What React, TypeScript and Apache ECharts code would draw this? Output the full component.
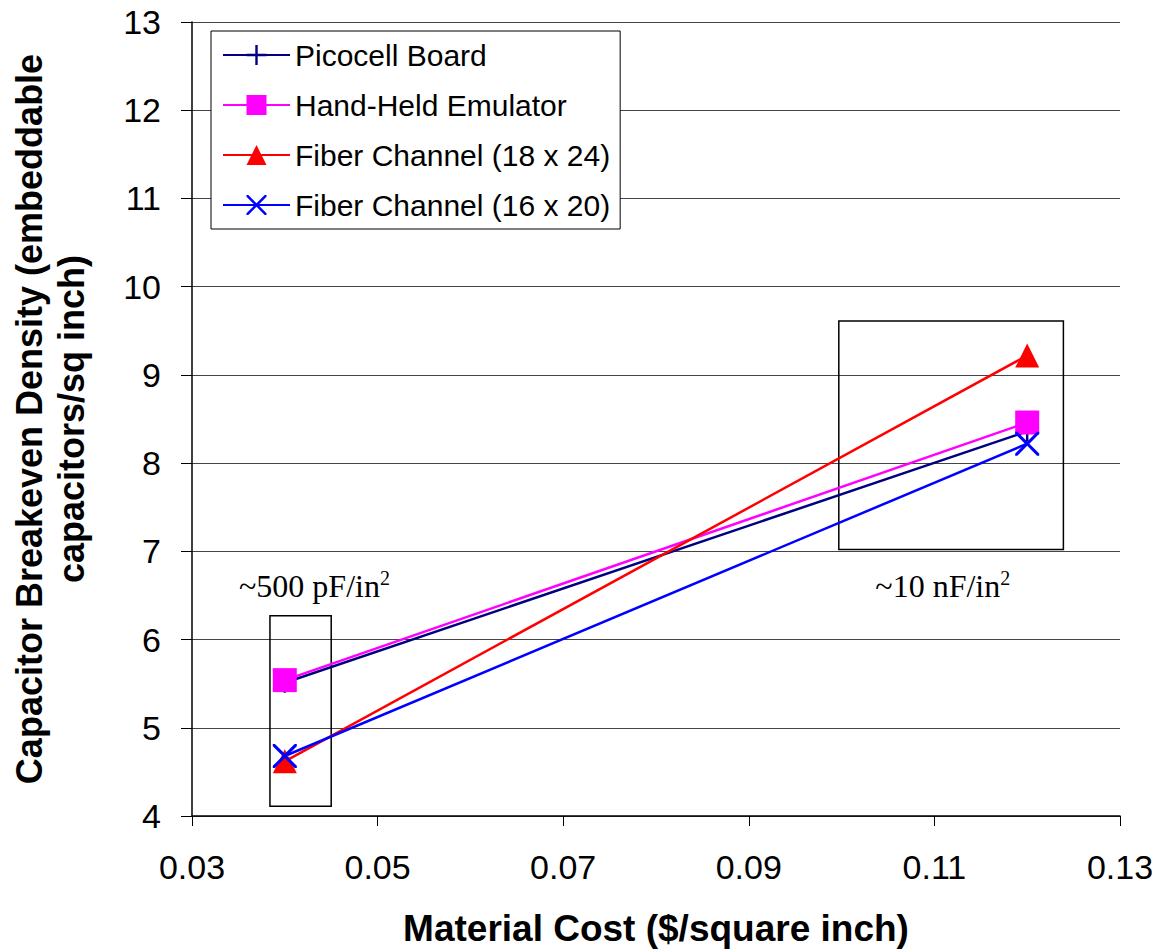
import React, { useEffect, useRef } from "react";
import * as echarts from "echarts";

// ---- data ----
const costs = [0.04, 0.12];
const picocell = [5.51, 8.36];
const handHeld = [5.54, 8.46];
const fiber1824 = [4.62, 9.22];
const fiber1620 = [4.68, 8.22];
const seriesNames = [
  "Picocell Board",
  "Hand-Held Emulator",
  "Fiber Channel (18 x 24)",
  "Fiber Channel (16 x 20)",
];
const xTitle = "Material Cost ($/square inch)";
const yTitle = "Capacitor Breakeven Density (embeddable\ncapacitors/sq inch)";

// annotation boxes (data coords)
const boxLow = [[0.0384, 6.27], [0.045, 4.11]];
const boxHigh = [[0.0997, 9.61], [0.1239, 7.02]];
const labelLow = { main: "~500 pF/in", sup: "2", at: [0.0432, 6.61] };
const labelHigh = { main: "~10 nF/in", sup: "2", at: [0.1109, 6.61] };

const SANS = "'Liberation Sans', Arial, sans-serif";
const SERIF = "'Liberation Serif', 'Times New Roman', serif";

const PLUS =
  "path://M4.4,0h1.2v4.4h4.4v1.2h-4.4v4.4h-1.2v-4.4h-4.4v-1.2h4.4z";
const a = 0.9;
const CROSS = `path://M0,0L${a},0L5,${5 - a}L${10 - a},0L10,0L10,${a}L${5 + a},5L10,${10 - a}L10,10L${10 - a},10L5,${5 + a}L${a},10L0,10L0,${10 - a}L${5 - a},5L0,${a}Z`;

const pairs = (vals: number[]) => costs.map((c, i) => [c, vals[i]]);

export default function App() {
  const ref = useRef<HTMLDivElement>(null);
  useEffect(() => {
    document.body.style.margin = "0";
    const chart = echarts.init(ref.current!, null, { renderer: "svg" });
    const lineW = 2.5;
    const mkSeries = (
      name: string,
      vals: number[],
      color: string,
      symbol: string,
      size: number | number[]
    ) => ({
      name,
      type: "line",
      data: pairs(vals),
      symbol,
      symbolSize: size,
      showSymbol: true,
      lineStyle: { color, width: lineW },
      itemStyle: { color, borderWidth: 0 },
      z: 3,
    });
    const option: any = {
      animation: false,
      backgroundColor: "#fff",
      grid: { left: 190, right: 40, top: 22, bottom: 136, containLabel: false },
      legend: {
        data: seriesNames,
        orient: "vertical",
        left: 211,
        top: 31,
        itemWidth: 67,
        itemHeight: 25,
        itemGap: 18,
        padding: [8, 10, 8, 11],
        borderColor: "#000",
        borderWidth: 1,
        backgroundColor: "#fff",
        textStyle: { fontFamily: SANS, fontSize: 30, color: "#000", lineHeight: 32 },
      },
      xAxis: {
        type: "value",
        min: 0.03,
        max: 0.13,
        interval: 0.02,
        name: xTitle,
        nameLocation: "middle",
        nameGap: 94,
        nameTextStyle: { fontFamily: SANS, fontSize: 37, fontWeight: "bold", color: "#000" },
        axisLine: { show: true, lineStyle: { color: "#000", width: 1.5 } },
        axisTick: { show: true, length: 10, lineStyle: { color: "#000", width: 1 } },
        axisLabel: {
          margin: 34,
          fontFamily: SANS,
          fontSize: 34,
          color: "#000",
          formatter: (v: number) => v.toFixed(2),
        },
        splitLine: { show: false },
      },
      yAxis: {
        type: "value",
        min: 4,
        max: 13,
        interval: 1,
        name: yTitle,
        nameLocation: "middle",
        nameRotate: 90,
        nameGap: 100,
        nameTextStyle: {
          fontFamily: SANS,
          fontSize: 36,
          fontWeight: "bold",
          color: "#000",
          lineHeight: 42,
          align: "center",
        },
        axisLine: { show: true, lineStyle: { color: "#000", width: 1.5 } },
        axisTick: { show: true, length: 11, lineStyle: { color: "#000", width: 1 } },
        axisLabel: {
          margin: 31,
          fontFamily: SANS,
          fontSize: 34,
          color: "#000",
        },
        splitLine: { show: true, lineStyle: { color: "#444", width: 1 } },
      },
      series: [
        mkSeries(seriesNames[0], picocell, "#000080", PLUS, 20),
        mkSeries(seriesNames[1], handHeld, "#FF00FF", "rect", 24),
        mkSeries(seriesNames[2], fiber1824, "#FF0000", "triangle", [24, 24]),
        mkSeries(seriesNames[3], fiber1620, "#0000FF", CROSS, 24),
        {
          name: "annotations",
          type: "line",
          data: [],
          z: 2,
          markArea: {
            silent: true,
            itemStyle: { color: "rgba(0,0,0,0)", borderColor: "#000", borderWidth: 1.5 },
            data: [
              [{ coord: boxLow[0] }, { coord: boxLow[1] }],
              [{ coord: boxHigh[0] }, { coord: boxHigh[1] }],
            ],
          },
          markPoint: {
            silent: true,
            symbol: "circle",
            symbolSize: 0,
            itemStyle: { color: "rgba(0,0,0,0)" },
            label: {
              show: true,
              position: "inside",
              fontFamily: SERIF,
              fontSize: 32,
              color: "#000",
              rich: {
                m: { fontFamily: SERIF, fontSize: 32, color: "#000", lineHeight: 36 },
                s: { fontFamily: SERIF, fontSize: 20, color: "#000", verticalAlign: "top", lineHeight: 36, padding: [0, 0, 10, 0] },
              },
            },
            data: [labelLow, labelHigh].map((l) => ({
              coord: l.at,
              label: { formatter: `{m|${l.main}}{s|${l.sup}}` },
            })),
          },
        },
      ],
    };
    chart.setOption(option);
    return () => chart.dispose();
  }, []);
  return <div ref={ref} style={{ width: 1160, height: 952 }} />;
}
